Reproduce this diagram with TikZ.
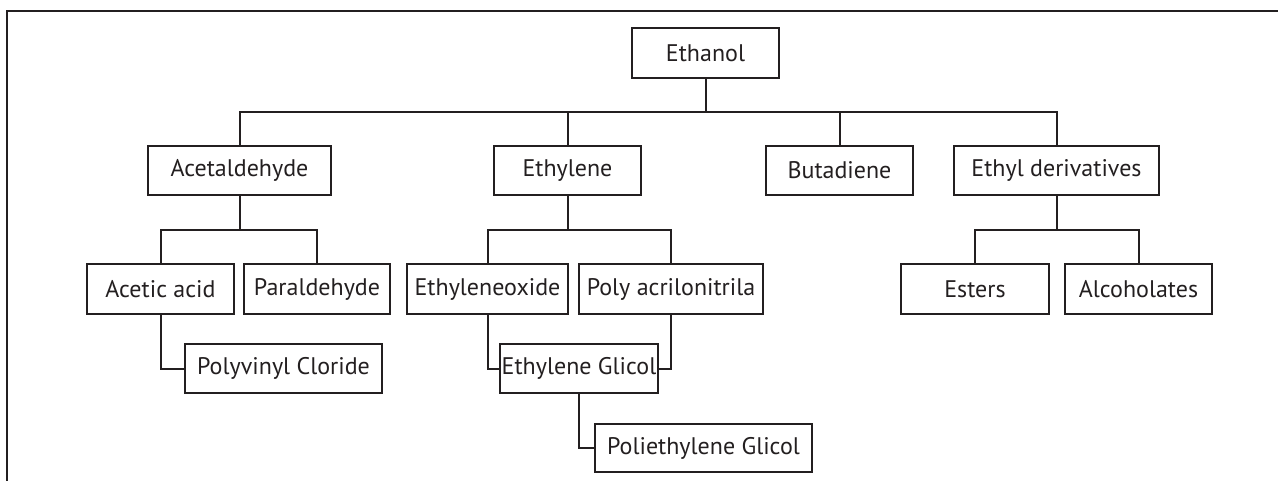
\documentclass[tikz,border=0pt]{standalone}
\usepackage{fontspec}
\setmainfont{PT Sans}
\definecolor{ink}{HTML}{231F20}
\begin{document}
\begin{tikzpicture}[x=1pt,y=-1pt,
  box/.style={draw=ink,line width=1.6pt,text=ink,inner sep=0pt,minimum height=49pt,
    font=\fontsize{24}{28}\selectfont},
  conn/.style={draw=ink,line width=2pt},
  frame/.style={draw=ink,line width=2.4pt}]
\useasboundingbox (0,0) rectangle (1278,480);
\draw[frame] (7,500) -- (7,11) -- (1300,11);
% level 0
\node[box,minimum width=147pt,minimum height=50pt] (eth) at (705.5,53) {Ethanol};
% level 1
\node[box,minimum width=183pt] (acet) at (239.5,170.5) {Acetaldehyde};
\node[box,minimum width=147pt] (ethy) at (567.5,170.5) {Ethylene};
\node[box,minimum width=147pt] (buta) at (839.5,170.5) {Butadiene};
\node[box,minimum width=205pt] (ethd) at (1056.5,170.5) {Ethyl derivatives};
% level 2
\node[box,minimum width=147pt,minimum height=50pt] (aca) at (160.5,289) {Acetic acid};
\node[box,minimum width=146pt,minimum height=50pt] (para) at (317,289) {Paraldehyde};
\node[box,minimum width=161pt,minimum height=50pt] (eox) at (487.5,289) {Ethyleneoxide};
\node[box,minimum width=184pt,minimum height=50pt] (pacr) at (671,289) {Poly acrilonitrila};
\node[box,minimum width=148pt,minimum height=50pt] (est) at (975,289) {Esters};
\node[box,minimum width=147pt,minimum height=50pt] (alc) at (1138.5,289) {Alcoholates};
% level 3
\node[box,minimum width=197pt] (pvc) at (283.5,368.5) {Polyvinyl Cloride};
\node[box,minimum width=158pt] (eg) at (579,368.5) {Ethylene Glicol};
% level 4
\node[box,minimum width=217pt,minimum height=48pt] (peg) at (703.5,448) {Poliethylene Glicol};
% buses
\coordinate (b1) at (705.5,112);
\coordinate (b2a) at (239.5,230);
\coordinate (b2b) at (567.5,230);
\coordinate (b2c) at (1056.5,230);
% connectors level 0 -> 1
\draw[conn] (eth.south) -- (b1);
\draw[conn] (acet.north) |- (b1) -| (ethd.north);
\draw[conn] (ethy.north) -- (ethy.north |- b1);
\draw[conn] (buta.north) -- (buta.north |- b1);
% level 1 -> 2
\draw[conn] (acet.south) -- (b2a);
\draw[conn] (aca.north) |- (b2a) -| (para.north);
\draw[conn] (ethy.south) -- (b2b);
\draw[conn] (eox.north) |- (b2b) -| (pacr.north);
\draw[conn] (ethd.south) -- (b2c);
\draw[conn] (est.north) |- (b2c) -| (alc.north);
% level 2 -> 3
\draw[conn] (aca.south) |- (pvc.west);
\draw[conn] (eox.south) |- (eg.west);
\draw[conn] (pacr.south) |- (eg.east);
% level 3 -> 4
\draw[conn] (eg.south) |- (peg.west);
\end{tikzpicture}
\end{document}
